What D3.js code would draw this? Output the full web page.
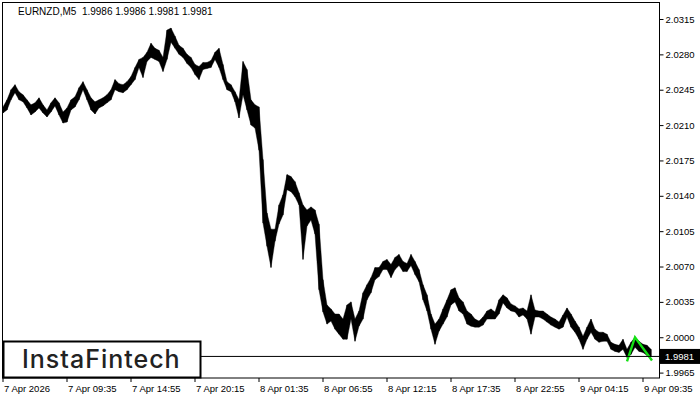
<!DOCTYPE html>
<html><head><meta charset="utf-8">
<script src="https://cdn.jsdelivr.net/npm/d3@7"></script>
<style>body{margin:0;background:#fff}svg{display:block}</style>
</head><body>
<svg id="c" width="700" height="400"></svg>
<script>
const symbol = "EURNZD,M5";
const lastOHLC = [1.9986, 1.9986, 1.9981, 1.9981];
const lastPrice = 1.9981;
const barsPerSample = 4;
const totalBars = 657;
const highs = [
2.0228,2.0235,2.0245,2.0250,2.0243,2.0240,2.0235,2.0230,2.0232,2.0237,
2.0230,2.0225,2.0232,2.0237,2.0232,2.0223,2.0227,2.0235,2.0238,2.0247,
2.0253,2.0245,2.0237,2.0233,2.0235,2.0237,2.0240,2.0245,2.0255,2.0251,
2.0250,2.0253,2.0258,2.0267,2.0275,2.0277,2.0282,2.0291,2.0286,2.0284,
2.0277,2.0304,2.0306,2.0298,2.0289,2.0286,2.0280,2.0277,2.0270,2.0268,
2.0272,2.0272,2.0274,2.0282,2.0286,2.0270,2.0253,2.0250,2.0243,2.0235,
2.0273,2.0265,2.0235,2.0230,2.0228,2.0176,2.0123,2.0107,2.0107,2.0131,
2.0141,2.0161,2.0159,2.0154,2.0143,2.0131,2.0126,2.0129,2.0126,2.0112,
2.0057,2.0032,2.0028,2.0023,2.0023,2.0018,2.0032,2.0035,2.0018,2.0026,
2.0044,2.0052,2.0059,2.0069,2.0069,2.0075,2.0077,2.0072,2.0079,2.0082,
2.0075,2.0073,2.0082,2.0075,2.0067,2.0052,2.0042,2.0023,2.0013,2.0018,
2.0028,2.0037,2.0047,2.0049,2.0039,2.0035,2.0026,2.0023,2.0018,2.0016,
2.0020,2.0026,2.0028,2.0025,2.0037,2.0042,2.0039,2.0033,2.0031,2.0028,
2.0029,2.0026,2.0042,2.0027,2.0026,2.0026,2.0023,2.0020,2.0018,2.0015,
2.0022,2.0029,2.0023,2.0016,2.0010,2.0001,2.0010,2.0018,2.0008,2.0005,
2.0005,2.0003,1.9995,1.9993,1.9992,1.9998,1.9988,1.9995,2.0000,1.9996,
1.9993,1.9992,1.9988
];
const lows = [
2.0222,2.0225,2.0235,2.0242,2.0235,2.0233,2.0227,2.0220,2.0223,2.0227,
2.0222,2.0218,2.0223,2.0229,2.0220,2.0212,2.0213,2.0225,2.0228,2.0235,
2.0245,2.0235,2.0225,2.0221,2.0227,2.0229,2.0232,2.0235,2.0245,2.0243,
2.0242,2.0245,2.0250,2.0255,2.0267,2.0257,2.0273,2.0277,2.0275,2.0273,
2.0263,2.0275,2.0292,2.0286,2.0280,2.0277,2.0271,2.0267,2.0260,2.0255,
2.0265,2.0266,2.0267,2.0275,2.0267,2.0255,2.0245,2.0243,2.0233,2.0217,
2.0240,2.0225,2.0210,2.0207,2.0185,2.0113,2.0090,2.0069,2.0095,2.0112,
2.0121,2.0146,2.0144,2.0139,2.0131,2.0077,2.0110,2.0116,2.0102,2.0047,
2.0025,2.0013,2.0016,2.0008,2.0003,1.9998,1.9998,2.0018,1.9996,2.0011,
2.0018,2.0037,2.0044,2.0057,2.0060,2.0067,2.0067,2.0059,2.0067,2.0071,
2.0065,2.0065,2.0071,2.0062,2.0055,2.0037,2.0026,2.0008,1.9993,2.0006,
2.0013,2.0020,2.0032,2.0035,2.0026,2.0023,2.0013,2.0011,2.0010,2.0010,
2.0012,2.0018,2.0018,2.0018,2.0023,2.0034,2.0029,2.0026,2.0025,2.0020,
2.0022,2.0018,2.0003,2.0020,2.0020,2.0018,2.0015,2.0012,2.0010,2.0008,
2.0010,2.0020,2.0010,2.0005,1.9998,1.9988,1.9998,2.0005,1.9998,1.9995,
1.9996,1.9996,1.9988,1.9986,1.9985,1.9988,1.9980,1.9983,1.9990,1.9986,
1.9985,1.9982,1.9981
];
const priceTicks = [2.0315,2.0280,2.0245,2.0210,2.0175,2.0140,2.0105,2.0070,2.0035,2.0000,1.9965];
const timeTickBars = [0,64,128,192,256,320,384,448,512,576,640];
const timeTickLabels = ["7 Apr 2026","7 Apr 09:35","7 Apr 14:55","7 Apr 20:15","8 Apr 01:35","8 Apr 06:55","8 Apr 12:15","8 Apr 17:35","8 Apr 22:55","9 Apr 04:15","9 Apr 09:35"];
const patternBars = [624.5, 632.5, 649.5];
const patternPrices = [1.9976, 2.0000, 1.9977];
const brand = "InstaFintech";

const svg = d3.select("#c");
const L = 2.5, R = 659.5, T = 2.5, B = 378;
const x = d3.scaleLinear().domain([0, totalBars]).range([L, R]);
const y = d3.scaleLinear().domain([1.9965, 2.0315]).range([372.6, 19]);
const font = "'Liberation Sans', Arial, sans-serif";

svg.append("rect").attr("width",700).attr("height",400).attr("fill","#fff");

const data = highs.map((h,i)=>({i, high:h, low:lows[i]}));
const bx = d => x(d.i*barsPerSample + 0.5);

const g = svg.append("g");
g.append("path").datum(data)
  .attr("d", d3.area().x(bx).y0(d=>y(d.low)).y1(d=>y(d.high)))
  .attr("fill","#000").attr("stroke","#000").attr("stroke-width",0.4);
g.selectAll("line.bar").data(data).join("line").attr("class","bar")
  .attr("x1",bx).attr("x2",bx)
  .attr("y1",d=>y(d.high)).attr("y2",d=>y(d.low))
  .attr("stroke","#000").attr("stroke-width",1);

// pattern
svg.append("path").datum(patternBars.map((b,i)=>[b,patternPrices[i]]))
  .attr("d", d3.line().x(d=>x(d[0])).y(d=>y(d[1])))
  .attr("fill","none").attr("stroke","#14e014").attr("stroke-width",2.4);

// frame
svg.append("rect").attr("x",L).attr("y",T).attr("width",R-L).attr("height",B-T)
  .attr("fill","none").attr("stroke","#000").attr("stroke-width",1);

// price axis
const yAxis = d3.axisRight(y).tickValues(priceTicks).tickSize(4).tickPadding(2)
  .tickFormat(d3.format(".4f"));
const ya = svg.append("g").attr("transform",`translate(${R},0)`).call(yAxis);
ya.select(".domain").remove();
ya.selectAll("line").attr("stroke","#000");
ya.selectAll("text").attr("font-family",font).attr("font-size","9.5px").attr("fill","#000");

// time axis
const xa = svg.append("g").attr("transform",`translate(0,${B})`)
  .call(d3.axisBottom(x).tickValues(timeTickBars).tickSize(4)
    .tickFormat((d,i)=>timeTickLabels[i]));
xa.select(".domain").remove();
xa.selectAll("line").attr("stroke","#000");
xa.selectAll("text").attr("font-family",font).attr("font-size","9.5px").attr("fill","#000")
  .attr("text-anchor","start").attr("dx","1px").attr("y",6).attr("dy","0.85em");

// bid line
svg.append("line").attr("x1",L).attr("x2",R).attr("y1",y(lastPrice)).attr("y2",y(lastPrice))
  .attr("stroke","#000").attr("stroke-width",1);

// last price label
svg.append("rect").attr("x",R+0.5).attr("y",y(lastPrice)-7.5).attr("width",40).attr("height",15).attr("fill","#000");
svg.append("text").attr("x",665).attr("y",y(lastPrice)).attr("dy","0.35em")
  .attr("font-family",font).attr("font-size","9.5px").attr("fill","#fff")
  .text(d3.format(".4f")(lastPrice));

// title
svg.append("text").attr("x",18).attr("y",15).attr("font-family",font).attr("font-size","10px")
  .attr("fill","#000").attr("xml:space","preserve")
  .text(symbol + "  " + lastOHLC.map(d3.format(".4f")).join(" "));

// logo
svg.append("rect").attr("x",3.5).attr("y",341.5).attr("width",197).attr("height",36)
  .attr("fill","#fff").attr("stroke","#000").attr("stroke-width",2);
svg.append("text").attr("x",22).attr("y",368).attr("font-family","Inter, 'Noto Sans', sans-serif")
  .attr("font-size","25px").attr("font-weight",500).attr("letter-spacing","1px").attr("fill","#222")
  .text(brand);
</script>
</body></html>
